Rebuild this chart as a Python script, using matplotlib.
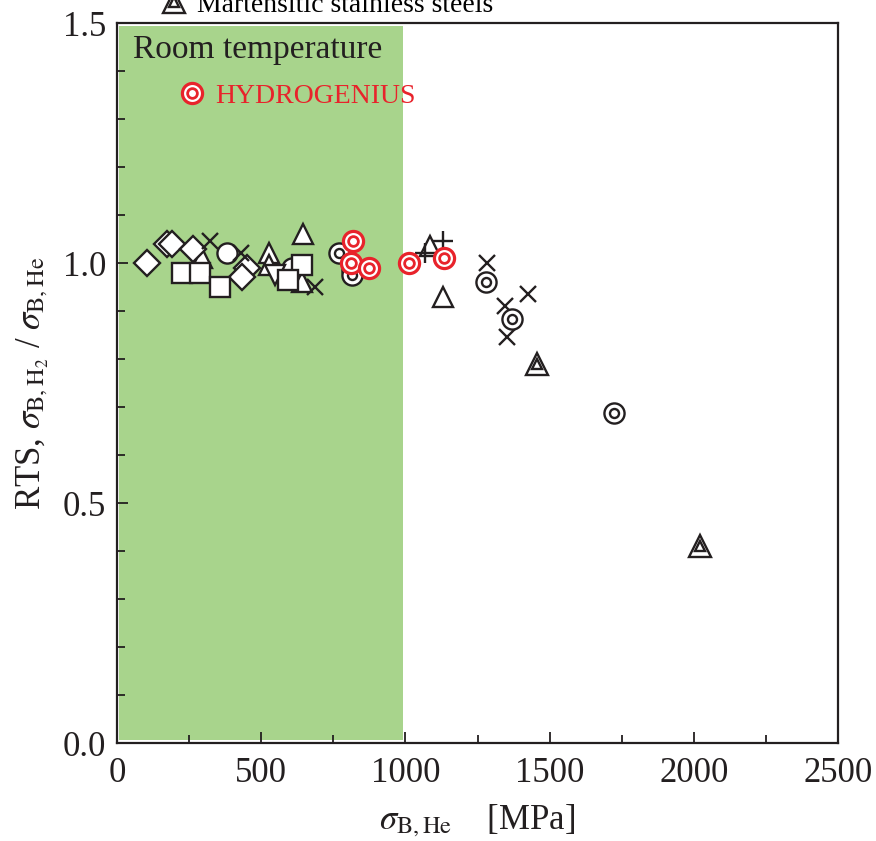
import matplotlib
matplotlib.use("Agg")
from matplotlib import pyplot as plt
from matplotlib.lines import Line2D
from matplotlib.patches import Rectangle

plt.rcParams['font.family'] = ['Liberation Serif', 'DejaVu Serif']
plt.rcParams['mathtext.fontset'] = 'stix'

# open diamonds
dia_x = [105, 175, 190, 265, 450, 435]
dia_y = [1.00, 1.04, 1.04, 1.03, 0.99, 0.97]
# crosses
crs_x = [322, 430, 685, 1283, 1345, 1352, 1425]
crs_y = [1.045, 1.02, 0.95, 1.00, 0.91, 0.845, 0.935]
# plus
pls_x = [1068, 1130]
pls_y = [1.02, 1.045]
# open circles
cir_x = [380, 605]
cir_y = [1.02, 0.99]
# open triangles (up)
tri_x = [645, 527, 527, 295, 1130, 1085, 641]
tri_y = [1.06, 1.02, 0.995, 1.01, 0.93, 1.035, 0.96]
# triangles (down)
dtri_x = [548]
dtri_y = [0.975]
# squares
sq_x = [225, 288, 357, 642, 593]
sq_y = [0.98, 0.98, 0.95, 0.995, 0.965]
# double circles (black)
dc_x = [768, 815, 815, 1280, 1370, 1723]
dc_y = [1.02, 0.985, 0.975, 0.96, 0.883, 0.688]
# martensitic stainless steels (double triangles)
mss_x = [1456, 2021]
mss_y = [0.79, 0.41]
# HYDROGENIUS (red double circles)
hg_x = [818, 812, 874, 1012, 1134]
hg_y = [1.045, 1.00, 0.99, 1.00, 1.01]

red = '#e8232b'
green = '#a8d48c'

fig = plt.figure(figsize=(8.76, 8.41), dpi=100)
ax = fig.add_axes([0.1336, 0.1165, 0.823, 0.856])

ax.add_patch(Rectangle((8, 0.006), 982, 1.488, facecolor=green, edgecolor='none', zorder=0))

mk = dict(linestyle='none', markerfacecolor='white', markeredgecolor='#231f20', markeredgewidth=1.7)
ax.plot(tri_x, tri_y, marker='^', markersize=15, zorder=3, **mk)
ax.plot(cir_x, cir_y, marker='o', markersize=14.5, zorder=3, **mk)
ax.plot(dia_x, dia_y, marker='D', markersize=13, zorder=4, **mk)
ax.plot(dtri_x, dtri_y, marker='v', markersize=15, zorder=4, **mk)
ax.plot(sq_x, sq_y, marker='s', markersize=15, zorder=5, **mk)
ax.plot(crs_x, crs_y, marker='x', markersize=11, zorder=6, **mk)
ax.plot(pls_x, pls_y, marker='+', markersize=15, zorder=6, **mk)
ax.plot(dc_x, dc_y, marker='o', markersize=14.5, zorder=6, **mk)
ax.plot(dc_x, dc_y, marker='o', markersize=6.5, zorder=6, **mk)
ax.plot(mss_x, mss_y, marker='^', markersize=16, zorder=6, **mk)
ax.plot(mss_x, mss_y, marker='^', markersize=7, zorder=6, **mk)

hk = dict(linestyle='none', markerfacecolor='white', markeredgecolor=red, markeredgewidth=2.3)
h1, = ax.plot(hg_x, hg_y, marker='o', markersize=14.5, zorder=7, **hk)
h2, = ax.plot(hg_x, hg_y, marker='o', markersize=7, markeredgewidth=2.0, zorder=7,
              linestyle='none', markerfacecolor='white', markeredgecolor=red)

ax.text(0.022, 0.9625, 'Room temperature', transform=ax.transAxes, fontsize=24, color='#231f20', va='center')
leg = ax.legend([(h1, h2)], ['HYDROGENIUS'], loc='center left', bbox_to_anchor=(0.067, 0.899),
                frameon=False, fontsize=20, handlelength=0.9, handletextpad=0.4, borderpad=0)
for t in leg.get_texts():
    t.set_color(red)

m1 = Line2D([], [], marker='^', markersize=16, **mk)
m2 = Line2D([], [], marker='^', markersize=7, **mk)
fig.legend([(m1, m2)], ['Martensitic stainless steels'], loc='center left', bbox_to_anchor=(0.168, 0.9935),
           frameon=False, fontsize=20, handlelength=0.9, handletextpad=0.4, borderpad=0)

ax.set_xlim(0, 2500)
ax.set_ylim(0, 1.5)
ax.set_xticks([0, 500, 1000, 1500, 2000, 2500])
ax.set_xticks([250, 750, 1250, 1750, 2250], minor=True)
ax.set_yticks([0.0, 0.5, 1.0, 1.5])
ax.set_yticklabels(['0.0', '0.5', '1.0', '1.5'])
ax.set_yticks([0.1, 0.2, 0.3, 0.4, 0.6, 0.7, 0.8, 0.9, 1.1, 1.2, 1.3, 1.4], minor=True)
ax.tick_params(which='both', direction='in', labelsize=25, color='#231f20', labelcolor='#231f20')
ax.tick_params(which='major', length=8, width=1.3)
ax.tick_params(which='minor', length=6, width=1.3)
ax.tick_params(axis='x', pad=10)
ax.tick_params(axis='y', pad=8)
for s in ax.spines.values():
    s.set_linewidth(1.6)
    s.set_color('#231f20')

ax.set_xlabel(r'$\sigma_{\mathrm{B,He}}$    [MPa]', fontsize=25, color='#231f20', labelpad=9)
ax.set_ylabel(r'RTS, $\sigma_{\mathrm{B,H_2}}$ / $\sigma_{\mathrm{B,He}}$', fontsize=25, color='#231f20', labelpad=8)

fig.savefig('out.png', dpi=100)
